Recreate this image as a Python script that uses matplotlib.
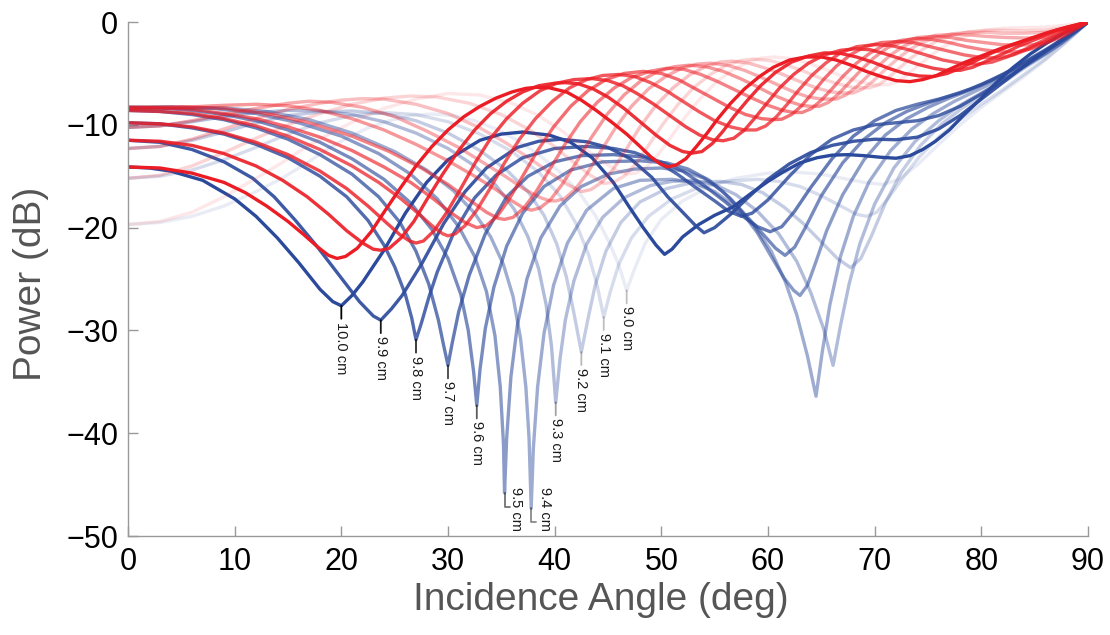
import matplotlib
matplotlib.use("Agg")
import matplotlib.pyplot as plt

plt.rcParams['font.family'] = ['Liberation Sans', 'DejaVu Sans']

# slab thickness for each curve pair (cm)
thickness = [9.0, 9.1, 9.2, 9.3, 9.4, 9.5, 9.6, 9.7, 9.8, 9.9, 10.0]

# blue family: (incidence angle in deg, power in dB)
blue_90 = [(0, -19.7), (3, -19.5), (6, -18.9), (9, -17.9), (12, -16.5), (14.25, -15.3), (16.5, -13.9), (18.5, -12.5),
           (20.5, -11.3), (22.5, -10.3), (24.5, -9.6), (26.5, -9.1), (28.5, -8.95), (30.5, -9.1), (32.5, -9.6),
           (34.5, -10.4), (36.5, -11.5), (38.5, -12.9), (40.5, -14.6), (42.3, -16.6), (43.8, -18.8), (45, -21.2),
           (46, -23.6), (46.75, -26.1), (47.5, -24.0), (48.5, -21.5), (50, -19.2), (52, -17.4), (54.5, -16.0),
           (57, -15.2), (60, -14.7), (62.5, -14.6), (65, -14.8), (67, -15.2), (69, -15.6), (70.8, -15.8),
           (72.3, -15.3), (74, -13.9), (76, -11.9), (78, -10.0), (80, -8.3), (82, -6.8), (84, -5.3), (86, -3.7),
           (88, -1.9), (90, 0)]
blue_91 = [(0, -15.2), (3, -15.0), (6, -14.4), (9, -13.4), (12, -12.2), (15, -10.9), (18, -9.8), (21, -9.1),
           (24, -8.8), (27, -9.0), (30, -9.7), (33, -10.9), (36, -12.6), (38.5, -14.6), (40.5, -16.9), (42, -19.6),
           (43.2, -22.7), (44, -25.7), (44.6, -28.7), (45.2, -26.3), (46, -23.6), (47.2, -21.0), (48.8, -18.9),
           (51, -17.2), (53.5, -16.1), (56, -15.5), (59, -15.3), (61, -15.5), (63, -16.0), (65, -16.9), (67, -18.0),
           (68.3, -18.7), (69.25, -18.9), (70.2, -18.5), (71.3, -17.1), (72.6, -15.2), (74.2, -13.1), (76, -11.2),
           (78, -9.5), (80, -8.0), (82, -6.6), (84, -5.1), (86, -3.6), (88, -1.9), (90, 0)]
blue_92 = [(0, -12.3), (3, -12.1), (6, -11.5), (9, -10.7), (12, -9.8), (15, -9.1), (18, -8.75), (21, -8.65),
           (24, -8.9), (27, -9.6), (30, -10.8), (33, -12.5), (35.5, -14.4), (37.5, -16.5), (39, -18.8),
           (40.2, -21.6), (41.1, -24.8), (41.8, -28.3), (42.5, -32.1), (43.1, -29.0), (43.8, -25.6), (44.8, -22.3),
           (46.2, -19.5), (48, -17.5), (50.5, -16.2), (53, -15.6), (55.5, -15.5), (57.5, -15.8), (59.5, -16.6),
           (61.5, -18.0), (63.3, -19.6), (65, -21.4), (66.5, -23.0), (67.75, -23.9), (68.7, -23.0), (69.7, -20.8),
           (71, -17.6), (72.5, -14.6), (74.3, -12.0), (76.3, -9.9), (78.3, -8.3), (80.3, -7.0), (82.3, -5.7),
           (84.3, -4.3), (86.3, -3.0), (88.2, -1.5), (90, 0)]
blue_93 = [(0, -10.25), (3, -10.1), (6, -9.7), (9, -9.2), (12, -8.8), (15, -8.6), (18, -8.65), (21, -9.0),
           (24, -9.7), (27, -10.8), (30, -12.3), (32.5, -14.0), (34.5, -15.9), (36.2, -18.2), (37.5, -20.9),
           (38.5, -24.0), (39.2, -27.5), (39.7, -31.5), (40.1, -37.0), (40.5, -32.8), (41.0, -29.0), (41.8, -25.2),
           (43, -21.6), (44.5, -19.0), (46.5, -17.1), (49, -15.9), (51, -15.5), (53, -15.4), (55, -15.8),
           (57, -16.8), (59, -18.4), (61, -20.6), (62.7, -23.3), (64, -26.3), (65.2, -29.8), (66.1, -33.4),
           (66.8, -29.5), (67.6, -25.5), (68.6, -21.6), (70, -17.7), (71.8, -14.2), (73.8, -11.6), (76, -9.6),
           (78, -8.1), (80, -6.9), (82, -5.7), (84, -4.4), (86, -3.1), (88, -1.6), (90, 0)]
blue_94 = [(0, -8.5), (4, -8.4), (9, -8.35), (13, -8.7), (17, -9.5), (21, -10.8), (25, -12.6), (28, -14.4),
           (30.5, -16.4), (32.5, -18.6), (34, -20.9), (35.2, -23.6), (36.1, -26.7), (36.8, -30.8), (37.3, -35.5),
           (37.6, -40.5), (37.8, -47.3), (38.0, -41.5), (38.4, -35.5), (39.0, -30.3), (39.9, -25.6), (41.2, -21.5),
           (43, -18.3), (45.5, -16.2), (48, -15.4), (51, -15.3), (53, -15.6), (55, -16.5), (57, -18.0),
           (58.7, -19.8), (60.3, -22.3), (61.6, -25.2), (62.7, -28.5), (63.7, -32.5), (64.5, -36.4), (65.1, -32.0),
           (65.8, -27.5), (66.8, -22.8), (68, -18.9), (69.5, -15.5), (71.5, -12.5), (73.5, -10.4), (75.5, -8.9),
           (77.5, -7.7), (79.5, -6.7), (81.5, -5.7), (83.5, -4.6), (85.5, -3.4), (87.5, -2.1), (89, -0.9), (90, 0)]
blue_95 = [(0, -8.3), (4, -8.25), (8, -8.4), (12, -8.9), (16, -9.8), (20, -11.1), (23.5, -12.8), (26.5, -14.8),
           (29, -17.2), (31, -19.9), (32.5, -22.8), (33.6, -26.2), (34.4, -30.5), (34.9, -35.5), (35.2, -41.0),
           (35.3, -45.8), (35.5, -40.5), (35.9, -34.5), (36.5, -29.5), (37.4, -25.0), (38.7, -21.0), (40.5, -17.9),
           (42.5, -16.0), (45, -14.8), (47.5, -14.3), (50, -14.2), (52.2, -14.5), (54, -15.2), (55.8, -16.5),
           (57.5, -18.4), (59, -20.5), (60.3, -22.8), (61.5, -24.9), (62.4, -26.1), (63, -26.6), (63.7, -25.6),
           (64.5, -23.3), (65.5, -20.3), (67, -16.8), (69, -13.4), (71, -11.0), (73, -9.4), (75, -8.3), (77, -7.4),
           (79, -6.6), (81, -5.7), (83, -4.6), (85, -3.4), (87, -2.2), (89, -0.8), (90, 0)]
blue_96 = [(0, -8.3), (3, -8.35), (6, -8.6), (9, -9.0), (12, -9.6), (15, -10.5), (18, -11.7), (21, -13.3),
           (24, -15.3), (26.5, -17.6), (28.5, -20.2), (30, -23.0), (31.2, -26.5), (31.9, -30.0), (32.4, -34.0),
           (32.7, -37.3), (33.0, -33.8), (33.5, -29.8), (34.3, -25.8), (35.5, -21.8), (37, -18.6), (39, -16.0),
           (41.5, -14.4), (44.5, -13.6), (48, -13.5), (50.5, -13.7), (52.5, -14.3), (54.5, -15.4), (56.5, -17.2),
           (58, -18.9), (59.5, -20.6), (60.7, -22.0), (61.6, -22.7), (62.5, -21.9), (63.5, -20.0), (65, -16.9),
           (67, -13.7), (69, -11.4), (71, -9.8), (73, -8.7), (75, -7.9), (77, -7.2), (79, -6.5), (81, -5.6),
           (83, -4.6), (85, -3.4), (87, -2.2), (89, -0.8), (90, 0)]
blue_97 = [(0, -8.6), (3, -8.7), (6, -9.0), (9, -9.5), (12, -10.3), (15, -11.4), (18, -12.9), (21, -14.8),
           (23.5, -17.0), (25.5, -19.5), (27, -22.3), (28.2, -25.5), (29.1, -29.0), (29.6, -31.5), (30, -33.4),
           (30.4, -31.2), (31, -28.2), (32, -24.6), (33.5, -20.6), (35.5, -17.0), (37.5, -15.0), (40, -13.6),
           (42.5, -13.0), (45.5, -12.9), (48, -13.1), (50, -13.6), (52, -14.5), (54, -15.9), (56, -17.5),
           (57.5, -18.8), (59, -19.9), (60.2, -20.4), (61.3, -19.9), (62.5, -18.4), (64, -16.1), (66, -13.3),
           (68, -11.1), (70, -9.6), (72, -8.6), (74, -8.0), (76, -7.5), (78, -6.9), (80, -6.1), (82, -5.1),
           (84, -3.9), (86, -2.7), (88, -1.4), (90, 0)]
blue_98 = [(0, -9.8), (3, -9.9), (6, -10.3), (9, -10.9), (12, -11.9), (15, -13.2), (18, -15.0), (20.5, -17.0),
           (22.5, -19.3), (24, -21.7), (25, -23.8), (26, -26.5), (26.6, -28.8), (27, -30.9), (27.5, -29.3),
           (28.2, -26.8), (29, -24.3), (30.5, -20.6), (32.5, -17.1), (34.5, -14.9), (37, -13.2), (40, -12.3),
           (43, -12.1), (45.5, -12.3), (47.5, -12.7), (49.5, -13.5), (51.5, -14.8), (53.5, -16.3), (55, -17.4),
           (56.3, -18.4), (57.5, -18.9), (58.5, -18.6), (60, -17.3), (62, -15.0), (64, -12.9), (66, -11.4),
           (68, -10.5), (70, -10.0), (72, -9.8), (74, -9.6), (76, -9.1), (78, -8.2), (80, -7.0), (82, -5.7),
           (84, -4.3), (86, -2.9), (88, -1.4), (90, 0)]
blue_99 = [(0, -11.5), (3, -11.7), (6, -12.4), (9, -13.6), (11.7, -15.2), (13.7, -17.0), (15.7, -19.3),
           (17.7, -21.8), (19.7, -24.5), (21.7, -27.2), (23.0, -28.6), (23.7, -29.0), (24.7, -27.9), (25.7, -26.6),
           (27.6, -23.4), (29.6, -19.6), (31.6, -16.5), (33.6, -14.2), (36.5, -12.2), (38.5, -11.6), (40.5, -11.4),
           (43, -11.65), (45, -12.2), (47.1, -13.3), (49.1, -15.1), (50.6, -17.0), (52, -18.5), (53.2, -19.8),
           (54, -20.5), (55, -20.0), (56.5, -18.7), (58, -17.2), (60, -15.3), (62, -13.8), (64, -12.7), (66, -12.0),
           (68, -11.6), (70, -11.4), (72, -11.45), (74, -11.2), (76, -10.4), (78, -9.1), (80, -7.5), (82, -5.9),
           (84, -4.3), (86, -2.8), (88, -1.4), (90, 0)]
blue_100 = [(0, -14.1), (2, -14.2), (4, -14.5), (7, -15.4), (10, -17.2), (12, -18.9), (14, -21.0), (16, -23.4),
            (18, -26.0), (19.2, -27.2), (20, -27.6), (21, -26.6), (22, -25.3), (24, -22.2), (26, -18.6), (28, -15.6),
            (30, -13.4), (33, -11.5), (35, -10.9), (37, -10.7), (39.5, -11.0), (41.5, -11.7), (43.5, -13.2),
            (45.5, -15.6), (47, -18.0), (48.3, -20.0), (49.5, -21.7), (50.3, -22.6), (51, -22.1), (52, -20.9),
            (53.5, -19.7), (55, -18.8), (56.7, -18.0), (58.5, -16.6), (60, -15.5), (61.4, -14.6), (63, -13.7),
            (64.6, -13.2), (66, -12.95), (67.5, -12.9), (69, -13.0), (70.5, -13.15), (72, -13.25), (73.3, -13.0),
            (74.5, -12.4), (75.7, -11.6), (77, -10.5), (78.3, -9.1), (79.8, -7.6), (81.4, -5.9), (83, -4.4),
            (84.6, -3.1), (86.2, -2.0), (87.7, -1.1), (89, -0.4), (90, 0)]

# red family
red_90 = [(0, -19.7), (3, -19.4), (6, -18.5), (9, -17.0), (12, -15.2), (14.25, -13.8), (16.5, -12.3), (19, -10.8),
          (21.5, -9.5), (24, -8.4), (27, -7.5), (30, -6.95), (33, -7.1), (36, -7.9), (38.5, -9.1), (40.7, -10.6),
          (42.7, -12.2), (44.5, -13.6), (45.8, -14.4), (46.75, -14.8), (47.6, -14.7), (48.6, -14.1), (49.7, -12.9),
          (50.9, -11.2), (52.2, -9.3), (53.6, -7.5), (55.1, -5.9), (56.6, -4.7), (58.1, -3.9), (59.4, -3.5),
          (60.6, -3.4), (62.2, -3.55), (63.8, -4.0), (65.4, -4.6), (67, -5.3), (68.5, -5.8), (69.9, -6.1),
          (71.2, -6.1), (72.1, -5.8), (73, -5.2), (74, -4.3), (75.1, -3.4), (76.3, -2.5), (77.6, -1.8), (79, -1.2),
          (80.5, -0.8), (82, -0.6), (84, -0.55), (86, -0.5), (88, -0.3), (90, 0)]
red_91 = [(0, -15.2), (3, -14.9), (6, -14.0), (9, -12.7), (12, -11.3), (15, -10.0), (18, -8.9), (21, -8.0),
          (24, -7.4), (26.5, -7.2), (29, -7.3), (32, -7.9), (35, -9.0), (37.5, -10.4), (39.7, -11.9), (41.6, -13.5),
          (43.2, -14.8), (44.6, -15.7), (45.5, -15.6), (46.5, -15.0), (47.6, -13.8), (48.8, -12.0), (50.1, -10.0),
          (51.5, -8.1), (53, -6.4), (54.6, -5.1), (56.1, -4.2), (57.4, -3.75), (58.6, -3.6), (60.2, -3.75),
          (61.8, -4.2), (63.4, -4.8), (65, -5.5), (66.5, -6.0), (67.9, -6.35), (69.5, -6.4), (70.4, -6.1),
          (71.3, -5.4), (72.3, -4.5), (73.4, -3.5), (74.6, -2.6), (75.9, -1.8), (77.3, -1.3), (78.8, -0.95),
          (80.3, -0.8), (82, -0.8), (84, -0.85), (86, -0.8), (88, -0.5), (90, 0)]
red_92 = [(0, -12.3), (3, -12.1), (6, -11.4), (9, -10.4), (12, -9.4), (15, -8.5), (18, -7.9), (20, -7.6),
          (22, -7.45), (24, -7.5), (27, -8.0), (30, -8.9), (33, -10.3), (35.5, -11.8), (37.7, -13.3), (39.6, -14.7),
          (41.2, -15.8), (42.5, -16.5), (43.4, -16.3), (44.4, -15.6), (45.5, -14.3), (46.7, -12.4), (48, -10.2),
          (49.5, -8.1), (51.1, -6.4), (52.7, -5.1), (54.2, -4.3), (55.5, -3.9), (56.6, -3.8), (58.2, -4.0),
          (59.8, -4.5), (61.4, -5.1), (63, -5.8), (64.5, -6.4), (65.9, -6.8), (67, -6.9), (68, -6.9), (68.9, -6.5),
          (69.8, -5.8), (70.8, -4.8), (71.9, -3.8), (73.1, -2.8), (74.4, -2.0), (75.8, -1.5), (77.3, -1.15),
          (78.8, -1.0), (80.4, -1.0), (82, -1.1), (84, -1.1), (86, -1.0), (88, -0.6), (90, 0)]
red_93 = [(0, -10.25), (3, -10.1), (6, -9.6), (9, -9.0), (12, -8.4), (15, -7.9), (17, -7.7), (19, -7.8),
          (22, -8.3), (25, -9.2), (28, -10.6), (31, -12.2), (33.5, -13.8), (35.5, -15.1), (37.2, -16.3),
          (38.7, -17.1), (39.6, -17.4), (40.1, -17.4), (40.9, -17.2), (41.9, -16.3), (43, -14.8), (44.3, -12.6),
          (45.7, -10.3), (47.2, -8.2), (48.8, -6.5), (50.4, -5.3), (51.9, -4.5), (53.3, -4.1), (54.6, -4.0),
          (56.2, -4.2), (57.8, -4.7), (59.4, -5.4), (60.9, -6.1), (62.4, -6.8), (63.8, -7.3), (65.1, -7.5),
          (66.4, -7.5), (67.3, -7.1), (68.2, -6.4), (69.2, -5.4), (70.3, -4.3), (71.5, -3.2), (72.8, -2.3),
          (74.2, -1.7), (75.7, -1.3), (77.2, -1.2), (78.8, -1.25), (80.5, -1.4), (82.2, -1.5), (84, -1.55),
          (86, -1.5), (88, -0.9), (90, 0)]
red_94 = [(0, -8.5), (3, -8.4), (6, -8.25), (9, -8.1), (12, -8.0), (15, -8.15), (18, -8.6), (21, -9.4),
          (24, -10.5), (27, -11.9), (30, -13.5), (32.5, -15.0), (34.5, -16.3), (36, -17.4), (37.1, -18.1),
          (37.8, -18.3), (38.6, -18.1), (39.6, -17.3), (40.7, -15.8), (42, -13.7), (43.4, -11.3), (44.9, -9.0),
          (46.5, -7.1), (48.1, -5.7), (49.7, -4.8), (51.2, -4.35), (52.6, -4.2), (54.2, -4.35), (55.8, -4.8),
          (57.4, -5.5), (59, -6.3), (60.5, -7.1), (61.9, -7.7), (63.1, -8.1), (64, -8.2), (64.8, -8.2),
          (65.7, -7.8), (66.6, -7.0), (67.6, -5.9), (68.7, -4.7), (69.9, -3.5), (71.2, -2.5), (72.6, -1.9),
          (74.1, -1.5), (75.6, -1.4), (77.1, -1.5), (78.7, -1.8), (80.3, -2.0), (81.9, -2.2), (83.4, -2.25),
          (84.9, -2.2), (86.3, -1.9), (87.7, -1.4), (90, 0)]
red_95 = [(0, -8.3), (5, -8.25), (9, -8.4), (13, -8.9), (17, -9.8), (21, -11.1), (24.5, -12.6), (27.5, -14.2),
          (30, -15.8), (32, -17.3), (33.6, -18.5), (34.7, -19.1), (35.3, -19.2), (36.1, -19.0), (37.1, -18.1),
          (38.2, -16.6), (39.5, -14.4), (40.9, -12.0), (42.4, -9.7), (44, -7.8), (45.6, -6.4), (47.2, -5.4),
          (48.9, -4.8), (50.5, -4.5), (52.1, -4.6), (53.7, -5.1), (55.3, -5.8), (56.9, -6.6), (58.5, -7.4),
          (60, -8.1), (61.4, -8.6), (62.4, -8.8), (63.2, -8.8), (64.1, -8.4), (65, -7.6), (66, -6.5), (67.1, -5.2),
          (68.3, -4.0), (69.6, -3.0), (71, -2.2), (72.4, -1.8), (73.9, -1.6), (75.4, -1.7), (77, -2.0),
          (78.6, -2.4), (80.2, -2.7), (81.8, -2.9), (83.3, -2.9), (84.7, -2.6), (86.2, -2.0), (87.7, -1.3), (90, 0)]
red_96 = [(0, -8.3), (3, -8.35), (6, -8.5), (9, -8.9), (12, -9.4), (15, -10.2), (18, -11.2), (21, -12.5),
          (24, -14.1), (26.5, -15.6), (28.5, -17.1), (30.2, -18.5), (31.6, -19.5), (32.7, -20.0), (33.6, -19.8),
          (34.6, -18.9), (35.7, -17.3), (37, -15.0), (38.4, -12.5), (39.9, -10.2), (41.5, -8.2), (43.1, -6.7),
          (44.8, -5.6), (46.5, -5.0), (48.3, -4.8), (50, -5.0), (51.6, -5.6), (53.2, -6.5), (54.8, -7.4),
          (56.4, -8.3), (57.9, -9.0), (59.4, -9.4), (60.5, -9.5), (61.3, -9.45), (62.2, -9.0), (63.1, -8.2),
          (64.1, -7.0), (65.2, -5.6), (66.4, -4.3), (67.7, -3.2), (69.1, -2.4), (70.6, -2.0), (72.1, -1.9),
          (73.6, -2.0), (75.2, -2.4), (76.8, -2.8), (78.4, -3.2), (80, -3.45), (81.6, -3.5), (83, -3.2),
          (84.5, -2.6), (86, -1.9), (87.6, -1.1), (90, 0)]
red_97 = [(0, -8.6), (3, -8.7), (6, -8.9), (9, -9.4), (12, -10.1), (15, -11.1), (18, -12.4), (21, -14.0),
          (23.5, -15.6), (25.6, -17.2), (27.3, -18.7), (28.6, -19.9), (29.5, -20.6), (30, -20.8), (30.7, -20.6),
          (31.6, -19.8), (32.7, -18.3), (34, -16.1), (35.3, -13.7), (36.7, -11.4), (38.2, -9.4), (39.8, -7.7),
          (41.4, -6.4), (43, -5.6), (44.5, -5.2), (46, -5.1), (47.5, -5.3), (49, -5.9), (50.5, -6.7), (52, -7.7),
          (53.5, -8.7), (55, -9.6), (56.5, -10.2), (57.8, -10.5), (58.9, -10.5), (59.8, -10.1), (60.8, -9.2),
          (61.8, -8.0), (62.9, -6.6), (64.1, -5.2), (65.4, -4.0), (66.8, -3.0), (68.3, -2.4), (70, -2.2),
          (71.6, -2.3), (73.2, -2.7), (74.8, -3.2), (76.4, -3.7), (78, -4.0), (79.6, -4.1), (81, -3.9),
          (82.4, -3.4), (84, -2.7), (85.6, -1.9), (87.3, -1.1), (90, 0)]
red_98 = [(0, -9.8), (3, -9.9), (6, -10.2), (9, -10.8), (12, -11.7), (15, -12.9), (18, -14.5), (20.5, -16.2),
          (22.5, -17.9), (24.2, -19.5), (25.5, -20.7), (26.4, -21.3), (27, -21.5), (27.7, -21.3), (28.7, -20.3),
          (29.9, -18.5), (31.2, -16.2), (32.6, -13.6), (34, -11.3), (35.5, -9.4), (37, -7.9), (38.6, -6.7),
          (40.2, -5.95), (41.8, -5.6), (43.5, -5.5), (45, -5.7), (46.4, -6.2), (47.8, -7.0), (49.3, -8.0),
          (50.8, -9.1), (52.3, -10.2), (53.6, -11.0), (54.8, -11.45), (55.8, -11.55), (56.8, -11.3), (57.8, -10.5),
          (58.8, -9.3), (59.9, -7.9), (61.1, -6.4), (62.4, -5.1), (63.8, -4.0), (65.3, -3.2), (66.8, -2.75),
          (68.2, -2.6), (69.6, -2.7), (71, -3.1), (72.5, -3.6), (74, -4.1), (75.5, -4.5), (76.8, -4.7), (78, -4.7),
          (79.2, -4.4), (80.5, -3.8), (82, -3.1), (83.6, -2.3), (85.3, -1.6), (87, -0.9), (90, 0)]
red_99 = [(0, -11.5), (3, -11.6), (6, -12.0), (9, -12.8), (12, -14.0), (14.5, -15.4), (16.8, -17.0), (18.8, -18.7),
          (20.5, -20.3), (22, -21.5), (23, -22.1), (23.7, -22.2), (24.5, -22.0), (25.6, -21.0), (26.8, -19.4),
          (28, -17.3), (29.5, -14.8), (31, -12.5), (32.5, -10.5), (34, -8.9), (35.5, -7.7), (37, -6.8), (38.5, -6.2),
          (40, -5.95), (41, -5.9), (42.2, -6.0), (43.6, -6.5), (45, -7.3), (46.5, -8.4), (48, -9.7), (49.5, -11.0),
          (50.8, -12.0), (52, -12.6), (52.9, -12.75), (53.8, -12.6), (54.8, -11.8), (55.8, -10.6), (56.8, -9.2),
          (58, -7.7), (59.3, -6.2), (60.7, -4.9), (62.2, -3.9), (63.8, -3.3), (65.3, -3.0), (66.8, -3.05),
          (68.3, -3.4), (69.8, -3.9), (71.3, -4.5), (72.8, -5.0), (74.2, -5.25), (75.5, -5.3), (76.8, -5.0),
          (78, -4.5), (79.4, -3.8), (81, -3.0), (83, -2.2), (85, -1.5), (87, -0.8), (90, 0)]
red_100 = [(0, -14.1), (3, -14.2), (6, -14.7), (9, -15.6), (11, -16.6), (13, -17.9), (15, -19.4), (16.5, -20.7),
           (17.8, -21.9), (18.8, -22.7), (19.6, -23.0), (20.4, -22.8), (21.5, -22.0), (22.8, -20.4), (24, -18.5),
           (25.5, -16.2), (27, -14.0), (28.5, -12.1), (30, -10.5), (31.5, -9.2), (33, -8.2), (34.5, -7.4),
           (36, -6.8), (37.3, -6.45), (38.3, -6.35), (39.5, -6.4), (41.1, -6.8), (42.5, -7.6), (43.9, -8.6),
           (45.3, -9.7), (46.75, -10.9), (48, -12.1), (49, -13.1), (49.9, -13.8), (50.6, -14.1), (51.4, -13.9),
           (52.3, -13.3), (53.3, -12.1), (54.3, -10.8), (55.3, -9.4), (56.5, -7.9), (57.8, -6.5), (59.2, -5.3),
           (60.5, -4.4), (62, -3.7), (63.5, -3.4), (65, -3.4), (66.4, -3.7), (67.8, -4.2), (69.2, -4.8),
           (70.6, -5.3), (72, -5.7), (73.3, -5.8), (74.5, -5.6), (75.8, -5.2), (77, -4.6), (78.5, -3.9),
           (80, -3.3), (82, -2.5), (84, -1.8), (86, -1.1), (88, -0.5), (90, 0)]

blue_curves = [blue_90, blue_91, blue_92, blue_93, blue_94, blue_95, blue_96, blue_97, blue_98, blue_99, blue_100]
red_curves = [red_90, red_91, red_92, red_93, red_94, red_95, red_96, red_97, red_98, red_99, red_100]

# labels sit under the first blue dip of each curve
label_text = ['9.0 cm', '9.1 cm', '9.2 cm', '9.3 cm', '9.4 cm', '9.5 cm', '9.6 cm', '9.7 cm', '9.8 cm',
              '9.9 cm', '10.0 cm']
label_dip = [(46.75, -26.1), (44.6, -28.7), (42.5, -32.1), (40.1, -37.0), (37.8, -47.3), (35.3, -45.8),
             (32.7, -37.3), (30.0, -33.4), (27.0, -30.9), (23.7, -29.0), (20.0, -27.6)]

BLUE = '#2c4a9c'
RED = '#ec1c24'
alphas = [0.1 + 0.09 * i for i in range(len(thickness))]

fig = plt.figure(figsize=(11.1, 6.35), dpi=100)
ax = fig.add_axes([0.1153, 0.1559, 0.8649, 0.8094])

for pts, a in zip(blue_curves, alphas):
    ax.plot([p[0] for p in pts], [p[1] for p in pts], color=BLUE, alpha=a, lw=2.4,
            solid_joinstyle='round', solid_capstyle='round')
for pts, a in zip(red_curves, alphas):
    ax.plot([p[0] for p in pts], [p[1] for p in pts], color=RED, alpha=a, lw=2.4,
            solid_joinstyle='round', solid_capstyle='round')

for txt, (x, y), a in zip(label_text, label_dip, alphas):
    lead = dict(arrowstyle='-', color='black', alpha=max(a, 0.25), lw=1.3, shrinkA=0, shrinkB=0)
    if txt in ('9.5 cm', '9.4 cm'):
        # the two deepest dips get a bent leader so the text stays above the axis
        ax.annotate('', xy=(x, y), xytext=(5, -14), textcoords='offset pixels',
                    arrowprops=dict(lead, connectionstyle='angle,angleA=180,angleB=90,rad=0'))
        dx, dy = (11, 6) if txt == '9.5 cm' else (14, 21)
        ax.annotate(txt, xy=(x, y), xytext=(dx, dy), textcoords='offset pixels',
                    rotation=-90, ha='center', va='top', fontsize=10.5, color='0.1')
    else:
        ax.annotate('', xy=(x, y), xytext=(0, -13), textcoords='offset pixels', arrowprops=lead)
        ax.annotate(txt, xy=(x, y), xytext=(0, -16), textcoords='offset pixels',
                    rotation=-90, ha='center', va='top', fontsize=10.5, color='0.1')

ax.set_xlim(0, 90)
ax.set_ylim(-50, 0)
ax.set_xticks(range(0, 91, 10))
ax.set_yticks(range(-50, 1, 10))
for side in ('top', 'right'):
    ax.spines[side].set_visible(False)
for side in ('left', 'bottom'):
    ax.spines[side].set_color('0.6')
    ax.spines[side].set_linewidth(1.0)
ax.tick_params(direction='in', length=7, width=1, color='0.6', labelsize=22, labelcolor='black')
ax.tick_params(axis='y', pad=7)
ax.tick_params(axis='x', pad=8)
ax.set_xlabel('Incidence Angle (deg)', fontsize=28, color='#555555')
ax.set_ylabel('Power (dB)', fontsize=28, color='#555555')
ax.xaxis.set_label_coords(0.492, -0.09)
ax.yaxis.set_label_coords(-0.082, 0.49)

fig.savefig('out.png', dpi=100)
